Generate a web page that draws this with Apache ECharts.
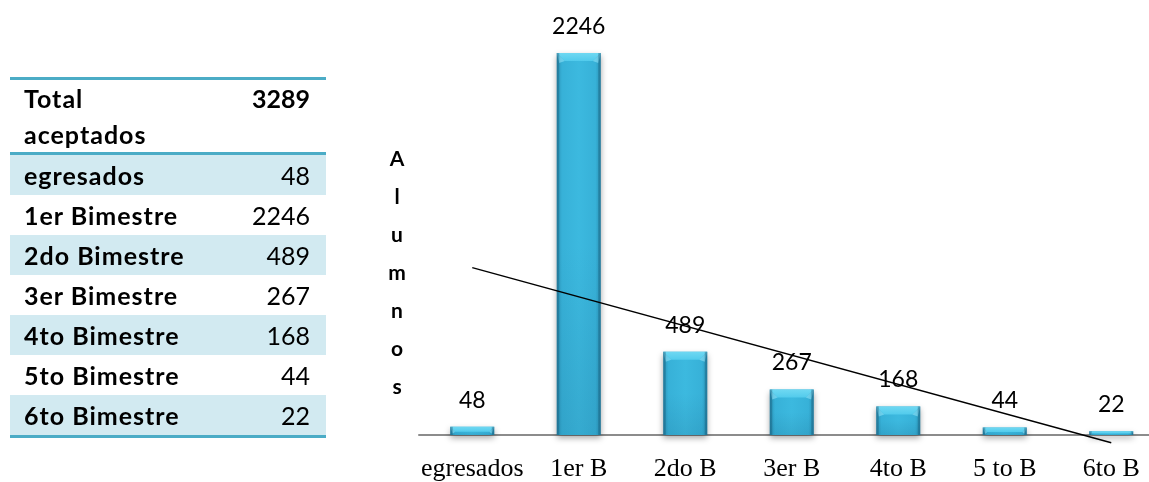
<!DOCTYPE html>
<html>
<head>
<meta charset="utf-8">
<script src="https://cdn.jsdelivr.net/npm/echarts@6/dist/echarts.min.js"></script>
<style>
  html, body { margin:0; padding:0; background:#fff; }
  #wrap { position:relative; width:1149px; height:482px; overflow:hidden; }
  #chart { position:absolute; left:0; top:0; width:1200px; height:482px; }
  #tbl { position:absolute; left:10px; top:77px; width:316px; font-family: Lato, "Noto Sans", sans-serif; color:#000; }
  #tbl .hdr { border-top:3px solid #4bacc6; border-bottom:3px solid #4bacc6; height:72px; position:relative; font-weight:bold; font-size:25px; line-height:36px; padding-left:14px; }
  #tbl .hdr .tl { letter-spacing:1px; }
  #tbl .hdr .tv { position:absolute; right:16px; top:0; }
  #tbl .row { height:40px; line-height:40px; font-size:25px; position:relative; padding-left:14px; }
  #tbl .row.sh { background:#d2eaf1; }
  #tbl .row .lb { font-weight:bold; letter-spacing:1px; }
  #tbl .row .vv { position:absolute; right:16px; top:0; }
  #tbl .bot { border-top:3px solid #4bacc6; }
</style>
</head>
<body>
<div id="wrap">
  <div id="chart"></div>
  <div id="tbl"></div>
</div>
<script>
// ---- data ----
const categories = ['egresados', '1er B', '2do B', '3er B', '4to B', '5 to B', '6to B'];
const values = [48, 2246, 489, 267, 168, 44, 22];
const tableLabels = ['egresados', '1er Bimestre', '2do Bimestre', '3er Bimestre', '4to Bimestre', '5to Bimestre', '6to Bimestre'];
const tableValues = [48, 2246, 489, 267, 168, 44, 22];
const totalLabel = ['Total', 'aceptados'];
const totalValue = 3289;
const trendEnds = [984, -46];   // linear trendline value at first and last category
const axisName = 'Alumnos';

// ---- table ----
(function () {
  const t = document.getElementById('tbl');
  let html = '<div class="hdr"><span class="tl">' + totalLabel.join('<br>') + '</span><span class="tv">' + totalValue + '</span></div>';
  tableLabels.forEach((l, i) => {
    html += '<div class="row' + (i % 2 === 0 ? ' sh' : '') + '"><span class="lb">' + l + '</span><span class="vv">' + tableValues[i] + '</span></div>';
  });
  html += '<div class="bot"></div>';
  t.innerHTML = html;
})();

// ---- chart ----
const chart = echarts.init(document.getElementById('chart'), null, { renderer: 'canvas' });

function renderBar(params, api) {
  const i = api.value(0), v = api.value(1);
  const top = api.coord([i, v]);
  const base = api.coord([i, 0]);
  const w = api.size([1, 0])[0] * 0.413;
  const x0 = top[0] - w / 2;
  const h = base[1] - top[1];
  const b = Math.min(8, h * 0.6);
  const s = 2.5;
  return {
    type: 'group',
    children: [
      {
        type: 'rect',
        shape: { x: x0, y: top[1], width: w, height: h },
        style: {
          fill: new echarts.graphic.LinearGradient(0, 0, 1, 0, [
            { offset: 0, color: '#2a92b6' },
            { offset: 0.12, color: '#37b1d8' },
            { offset: 0.5, color: '#3cb9df' },
            { offset: 0.88, color: '#37b1d8' },
            { offset: 1, color: '#2a92b6' }
          ]),
          shadowBlur: 6, shadowColor: 'rgba(0,0,0,0.35)', shadowOffsetY: 3
        }
      },
      {
        type: 'rect',
        shape: { x: x0, y: top[1] + h * 0.5, width: w, height: h * 0.5 },
        style: {
          fill: new echarts.graphic.LinearGradient(0, 0, 0, 1, [
            { offset: 0, color: 'rgba(0,40,70,0)' },
            { offset: 1, color: 'rgba(0,40,70,0.10)' }
          ])
        }
      },
      {
        type: 'polygon',
        shape: { points: [[x0, top[1]], [x0 + w, top[1]], [x0 + w - b, top[1] + b], [x0 + b, top[1] + b]] },
        style: {
          fill: new echarts.graphic.LinearGradient(0, 0, 0, 1, [
            { offset: 0, color: '#6fd8f2' },
            { offset: 1, color: '#52cbec' }
          ])
        }
      },
      {
        type: 'polygon',
        shape: { points: [[x0, top[1]], [x0 + b, top[1] + b], [x0 + s, top[1] + b + 2]] },
        style: { fill: 'rgba(150,230,250,0.55)' }
      },
      {
        type: 'polygon',
        shape: { points: [[x0 + w, top[1]], [x0 + w - b, top[1] + b], [x0 + w - s, top[1] + b + 2]] },
        style: { fill: 'rgba(150,230,250,0.55)' }
      },
      {
        type: 'rect',
        shape: { x: x0, y: top[1], width: s, height: h },
        style: { fill: 'rgba(20,80,110,0.35)' }
      },
      {
        type: 'rect',
        shape: { x: x0 + w - s, y: top[1], width: s, height: h },
        style: { fill: 'rgba(20,80,110,0.35)' }
      },
      {
        type: 'text',
        x: top[0], y: top[1] - 15,
        style: {
          text: String(v),
          textAlign: 'center', textVerticalAlign: 'bottom',
          font: '23px Lato, "Noto Sans", sans-serif',
          fill: '#000'
        }
      }
    ]
  };
}

const option = {
  animation: false,
  grid: { left: 419, top: 9.7, width: 745.5, height: 429.3, containLabel: false },
  xAxis: {
    type: 'category',
    data: categories,
    boundaryGap: true,
    axisLine: { show: true, lineStyle: { color: '#8c8c8c', width: 2 } },
    axisTick: { show: false },
    axisLabel: {
      interval: 0,
      margin: 21,
      color: '#000',
      fontFamily: '"Liberation Serif", "DejaVu Serif", serif',
      fontSize: 26
    },
    splitLine: { show: false }
  },
  yAxis: {
    type: 'value',
    min: 0, max: 2500,
    show: false,
    splitLine: { show: false }
  },
  graphic: [
    {
      type: 'text',
      x: 397, y: 273,
      style: {
        text: axisName.split('').join('\n'),
        textAlign: 'center', textVerticalAlign: 'middle',
        font: 'bold 21px Lato, "Noto Sans", sans-serif',
        lineHeight: 38,
        fill: '#000'
      }
    }
  ],
  series: [
    {
      type: 'custom',
      renderItem: renderBar,
      data: values.map((v, i) => [i, v]),
      encode: { x: 0, y: 1 },
      clip: false,
      z: 2
    },
    {
      type: 'line',
      data: [[0, trendEnds[0]], [categories.length - 1, trendEnds[1]]],
      symbol: 'none',
      clip: false,
      lineStyle: { color: '#000', width: 1.5 },
      z: 3
    }
  ]
};
chart.setOption(option);
</script>
</body>
</html>
